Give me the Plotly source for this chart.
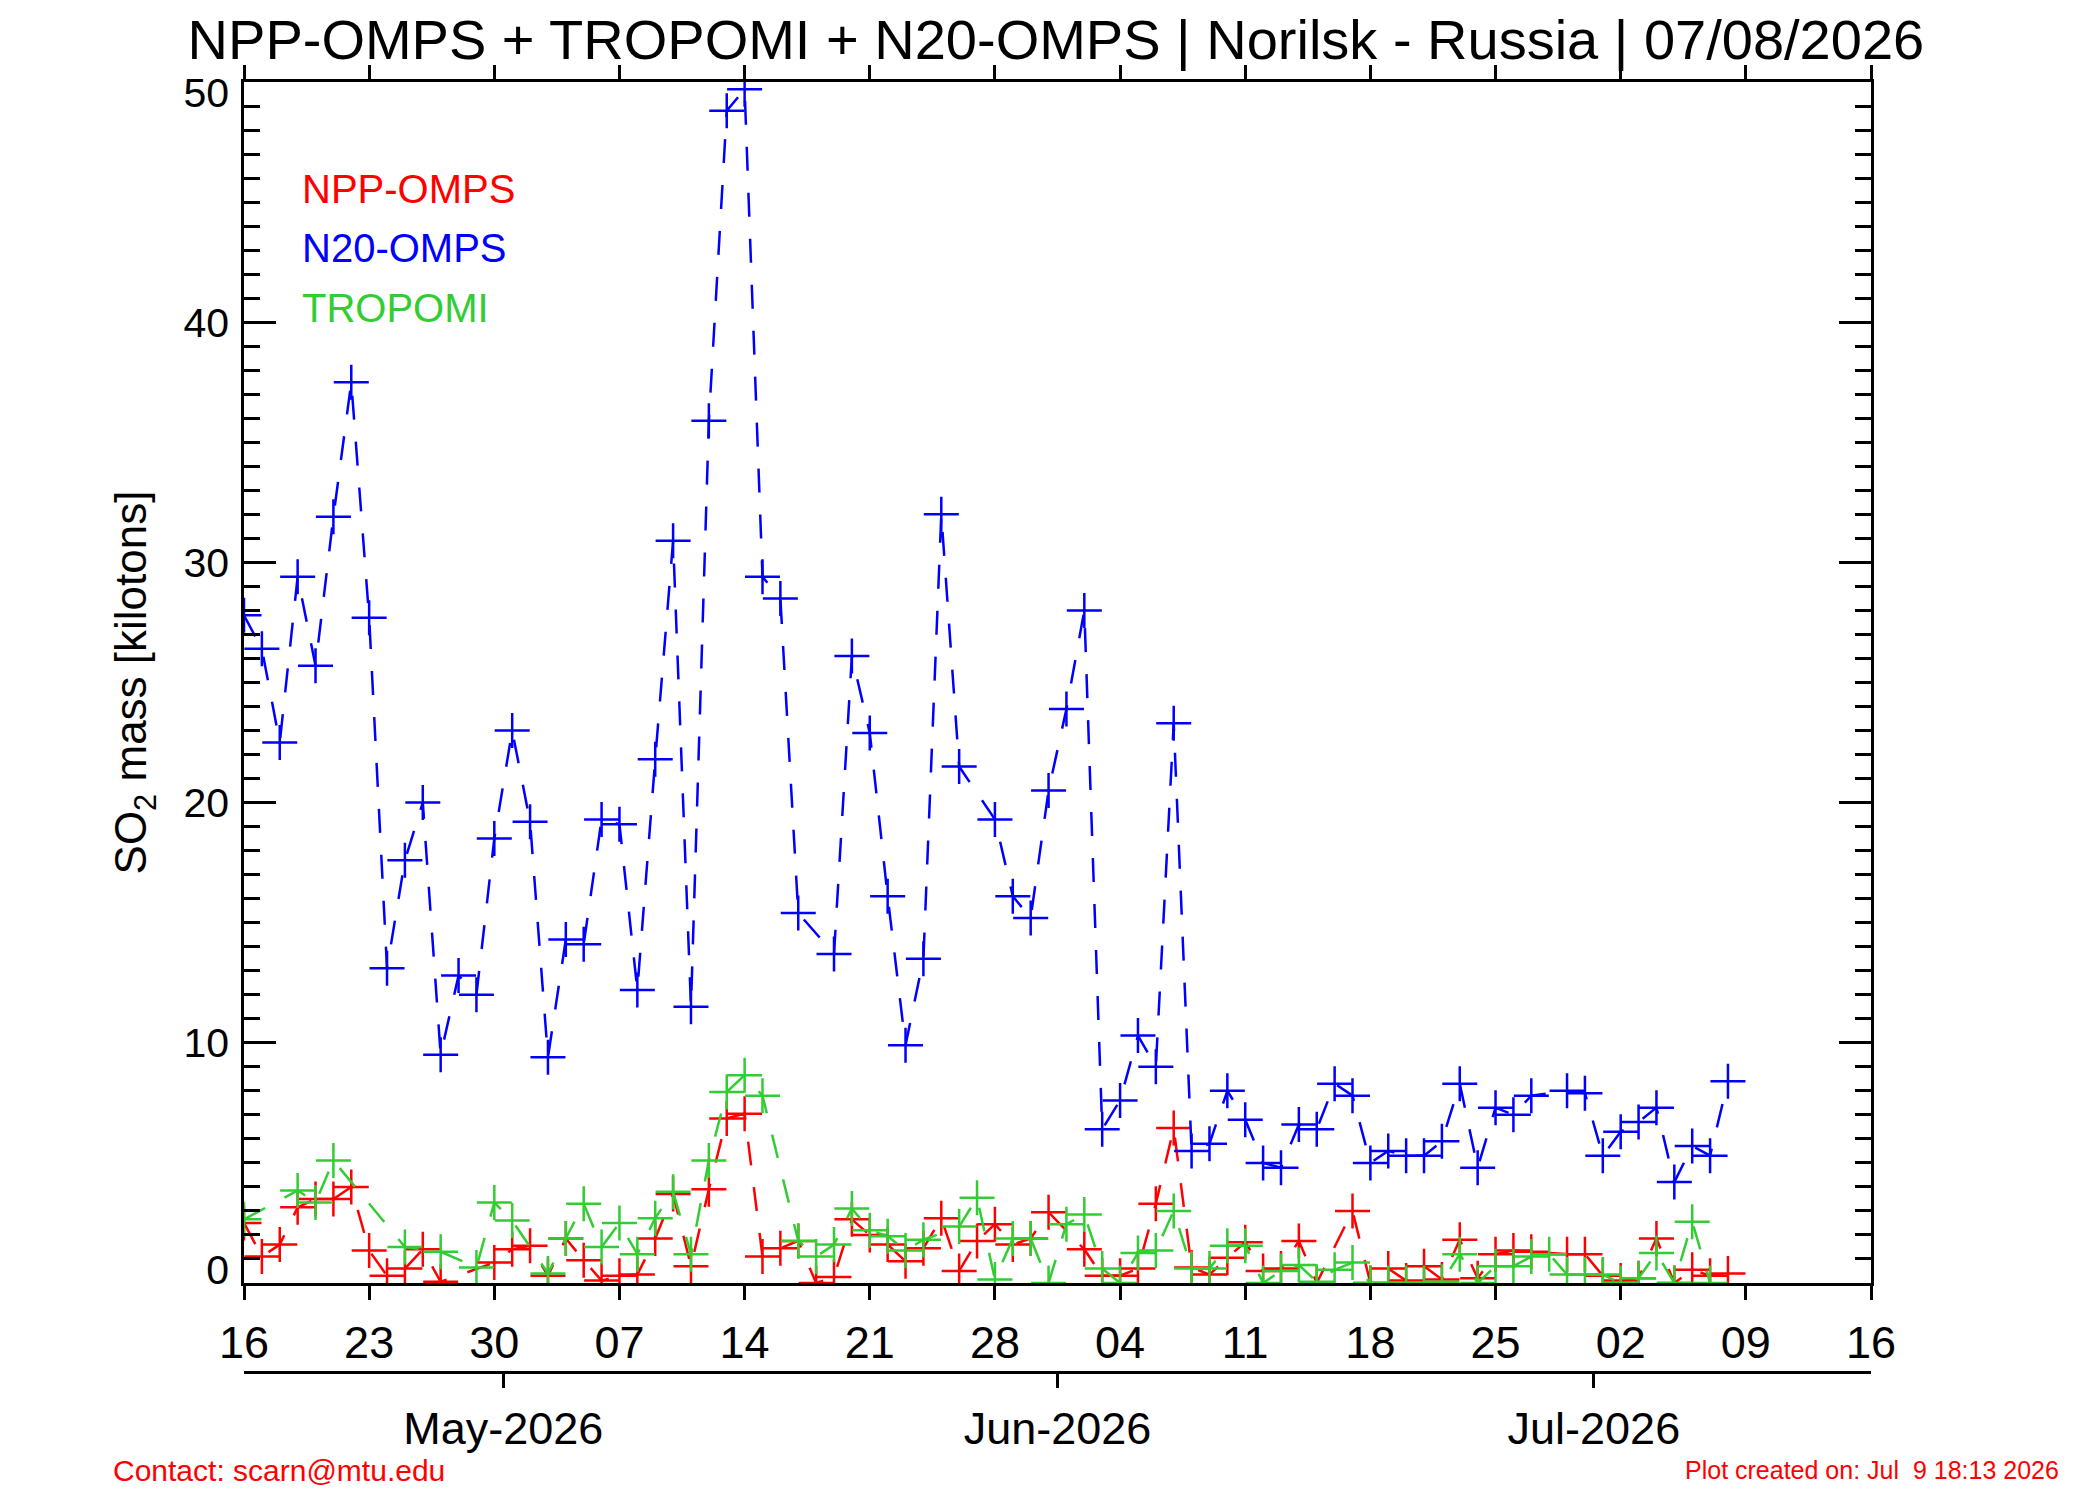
import pandas as pd
import plotly.graph_objects as go

# daily values, 16 Apr 2026 .. 08 Jul 2026 (None = no retrieval that day)
dates = pd.date_range("2026-04-16", "2026-07-08", freq="D")

npp_omps = [2.5, 1.1, 1.6, 3.15, 3.5, 3.5, 4.0, 1.35, 0.3, 0.6,
            1.4, 0.05, None, None, 0.85, 1.4, 1.55, 0.3, 1.85, 0.95,
            0.1, 0.3, 0.35, 1.85, 3.7, 0.7, 3.9, 6.85, 7.05, 1.1,
            1.45, 1.75, 0.0, 0.25, 2.65, 2.0, 1.6, 0.9, 1.45, 2.7,
            0.5, 1.75, 2.45, 1.6, 1.85, 2.95, None, 1.4, 0.3, 0.3,
            0.6, 3.3, 6.45, 0.65, 0.35, 1.05, 1.7, 0.5, 0.6, 1.75,
            0.0, None, 3.0, 0.0, 0.6, 0.1, 0.7, 0.15, 1.8, 0.2,
            1.2, 1.35, 1.3, None, 1.2, 1.2, 0.3, 0.1, 0.2, 1.85,
            0.0, 0.55, 0.3, 0.4]

n20_omps = [27.8, 26.4, 22.5, 29.4, 25.7, 31.9, 37.5, 27.7, 13.1, 17.6,
            20.0, 9.5, 12.8, 12.0, 18.5, 23.0, 19.2, 9.4, 14.3, 14.1,
            19.3, 19.1, 12.2, 21.8, 30.9, 11.5, 35.9, 48.8, 49.7, 29.4,
            28.5, 15.4, None, 13.7, 26.1, 22.9, 16.1, 9.9, 13.5, 32.0,
            21.5, None, 19.3, 16.1, 15.2, 20.5, 23.9, 28.0, 6.4, 7.6,
            10.3, 9.0, 23.3, 5.5, 5.8, 8.0, 6.8, 5.0, 4.8, 6.6,
            6.4, 8.3, 7.8, 5.0, 5.5, 5.3, 5.3, 5.9, 8.3, 4.8,
            7.3, 7.0, 7.8, None, 8.0, 7.9, 5.3, 6.3, 6.7, 7.3,
            4.2, 5.7, 5.3, 8.4]

tropomi = [2.65, None, None, 3.85, 3.35, 5.1, None, None, None, 1.5,
           None, 1.3, None, 0.65, 3.35, 2.6, None, 0.4, 1.85, 3.3,
           1.5, 2.5, 1.2, 2.7, 3.8, 1.2, 5.1, 7.95, 8.65, 7.8,
           None, 1.75, 1.1, 1.6, 3.1, 2.2, 1.95, 1.35, 1.8, None,
           2.35, 3.55, 0.15, 1.85, 1.85, 0.0, 2.45, 2.85, 0.6, 0.0,
           1.25, 1.35, 3.0, 0.6, 0.6, 1.55, 1.55, 0.0, 0.5, 0.75,
           0.05, 0.55, 0.85, 0.0, 0.0, 0.0, 0.0, 0.05, 1.2, 0.0,
           0.7, 0.7, 1.1, 1.2, 0.35, 0.35, 0.35, 0.0, 0.2, 1.25,
           0.0, 2.55, 0.0, None]

x_range = ["2026-04-16", "2026-07-16"]
y_range = [0, 50]
y_ticks = [0, 10, 20, 30, 40, 50]
month_ticks = ["2026-04-30 12:00", "2026-05-31 12:00", "2026-06-30 12:00"]
month_labels = ["May-2026", "Jun-2026", "Jul-2026"]

RED = "#ff0000"
BLUE = "#0000ff"
GREEN = "#32cd32"
FONT = "Liberation Sans, Arial, sans-serif"

fig = go.Figure()

for name, vals, col in [("NPP-OMPS", npp_omps, RED),
                        ("N20-OMPS", n20_omps, BLUE),
                        ("TROPOMI", tropomi, GREEN)]:
    fig.add_trace(go.Scatter(
        x=dates, y=vals, name=name, mode="lines+markers",
        connectgaps=True,
        line=dict(color=col, width=2.5, dash="24px,22px"),
        marker=dict(symbol="cross-thin", size=25,
                    line=dict(color=col, width=2.5)),
        showlegend=False,
    ))

# invisible trace so the month axis and the label axis get drawn
fig.add_trace(go.Scatter(x=dates, y=n20_omps, xaxis="x2", yaxis="y2",
                         mode="markers", marker=dict(opacity=0),
                         hoverinfo="skip", showlegend=False))

axis_common = dict(showline=True, linecolor="black", linewidth=2.5,
                   tickcolor="black", tickwidth=2.5, showgrid=False,
                   zeroline=False)

# end labels sit a little inside the axis, like the original plot
label_pos = [v + (0.55 if v == y_range[0] else -0.45 if v == y_range[1] else 0)
             for v in y_ticks]

fig.update_layout(
    width=2100, height=1500,
    margin=dict(l=236, r=237, t=74, b=136),
    paper_bgcolor="white", plot_bgcolor="white",
    font=dict(family=FONT, color="black"),
    title=dict(text="NPP-OMPS + TROPOMI + N20-OMPS | Norilsk - Russia | 07/08/2026",
               font=dict(size=56, color="black"),
               x=0.499, xanchor="center", y=0.979, yanchor="middle",
               xref="container", yref="container"),
    xaxis=dict(type="date", range=x_range, tick0="2026-04-16",
               dtick=7 * 86400000, tickformat="%d",
               ticks="outside", ticklen=14, mirror="ticks",
               tickfont=dict(size=45), ticklabelstandoff=4,
               anchor="y", **axis_common),
    xaxis2=dict(type="date", range=x_range, overlaying="x",
                anchor="free", position=0, side="bottom",
                tickvals=month_ticks, ticktext=month_labels,
                ticks="outside", ticklen=14,
                tickfont=dict(size=45), ticklabelstandoff=2,
                **axis_common),
    yaxis=dict(range=y_range, tickvals=y_ticks, domain=[0.069, 1],
               ticks="inside", ticklen=32, mirror="ticks",
               showticklabels=False,
               minor=dict(dtick=1, ticks="inside", ticklen=16,
                          tickwidth=2.5, tickcolor="black"),
               **axis_common),
    yaxis2=dict(range=y_range, overlaying="y", side="left", anchor="x",
                tickvals=label_pos, ticktext=[str(v) for v in y_ticks],
                ticks="", showline=False, showgrid=False, zeroline=False,
                tickfont=dict(size=41), ticklabelstandoff=14,
                title=dict(text="SO<sub>2</sub> mass [kilotons]",
                           font=dict(size=44), standoff=22)),
)

legend_items = [("NPP-OMPS", RED, 0.917),
                ("N20-OMPS", BLUE, 0.871),
                ("TROPOMI", GREEN, 0.825)]
for txt, col, yy in legend_items:
    fig.add_annotation(text=txt, x=0.0344, y=yy, xref="paper", yref="paper",
                       xanchor="left", yanchor="middle", showarrow=False,
                       font=dict(size=40, color=col))

fig.add_annotation(text="Contact: scarn@mtu.edu", x=-0.082, y=-0.076,
                   xref="paper", yref="paper", xanchor="left",
                   yanchor="middle", showarrow=False,
                   font=dict(size=30, color=RED))
fig.add_annotation(text="Plot created on: Jul\u00a0 9 18:13 2026", x=1.1168,
                   y=-0.076, xref="paper", yref="paper", xanchor="right",
                   yanchor="middle", showarrow=False,
                   font=dict(size=25, color=RED))

fig.write_html("out.html")
